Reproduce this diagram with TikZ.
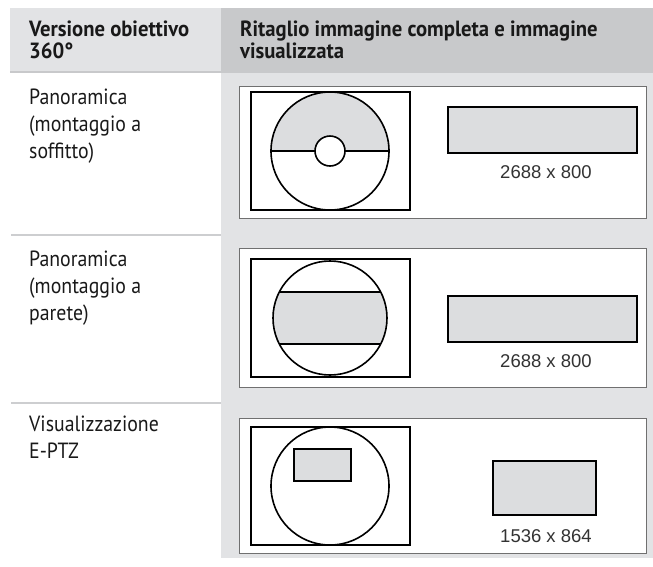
\documentclass[tikz,border=0pt]{standalone}
\usepackage{fontspec}
\setmainfont{PT Sans}[FakeStretch=0.9]
\newfontfamily\headfont{PT Sans}[FakeStretch=0.94]
\newfontfamily\numfont{Liberation Sans}
\definecolor{cellgray}{HTML}{E2E3E5}
\definecolor{headgray}{HTML}{C8C9CB}
\definecolor{fillgray}{HTML}{DCDDDF}
\definecolor{rulegray}{HTML}{CDCED0}
\definecolor{framegray}{HTML}{707070}
\begin{document}
\begin{tikzpicture}[
    x=1pt, y=-1pt,
    head/.style={anchor=north west, inner sep=0pt, align=left, font=\headfont\fontsize{22}{22}\selectfont\bfseries, text=black!90},
    label/.style={anchor=north west, inner sep=0pt, align=left, font=\fontsize{22}{27}\selectfont, text=black!90},
    dims/.style={inner sep=0pt, font=\fontsize{18.5}{20}\selectfont\numfont, text=black!80},
    panel/.style={draw=framegray, line width=0.8pt, fill=white},
    frame/.style={draw=black, line width=1.6pt},
    crop/.style={draw=black, line width=1.6pt, fill=fillgray},
    rowrule/.style={draw=rulegray, line width=1.6pt}
]
    \useasboundingbox (0,0) rectangle (653,566);

    % Table background
    \fill[cellgray] (10,8) rectangle (221,73);
    \fill[headgray] (221,8) rectangle (653,73);
    \fill[cellgray] (221,73) rectangle (653,558);
    \draw[rowrule, draw=headgray] (10,72) -- (221,72);
    \draw[rowrule] (11,235) -- (221,235);
    \draw[rowrule] (11,403) -- (221,403);

    % Header
    \node [head] (head1) at (29,21) {Versione obiettivo\\360°};
    \node [head] (head2) at (240,21) {Ritaglio immagine completa e immagine\\visualizzata};

    % Row labels
    \node [label] (row1) at (29,89) {Panoramica\\(montaggio a\\soffitto)};
    \node [label] (row2) at (29,251) {Panoramica\\(montaggio a\\parete)};
    \node [label] (row3) at (29,416) {Visualizzazione\\E-PTZ};

    % Panel 1: ceiling mount
    \draw[panel] (239,86) rectangle (646,218);
    \draw[frame] (251,92) rectangle (410,210);
    \fill[fillgray] (271,151) arc[start angle=180, end angle=0, radius=59pt] -- cycle;
    \draw[frame] (330,151) circle[radius=59pt];
    \draw[frame] (271,151) -- (389,151);
    \draw[frame, fill=white] (330,151) circle[radius=15pt];
    \draw[crop] (448,107) rectangle (637,153);
    \node [dims] (size1) at (546,172) {2688 x 800};

    % Panel 2: wall mount
    \draw[panel] (239,248) rectangle (646,387);
    \draw[frame] (251,259) rectangle (410,377);
    \begin{scope}
        \clip (330,318) circle[radius=57pt];
        \fill[fillgray] (260,292) rectangle (400,344);
        \draw[frame] (260,292) -- (400,292);
        \draw[frame] (260,344) -- (400,344);
    \end{scope}
    \draw[frame] (330,318) circle[radius=57pt];
    \draw[crop] (448,296) rectangle (637,342);
    \node [dims] (size2) at (546,361) {2688 x 800};

    % Panel 3: E-PTZ
    \draw[panel] (239,418) rectangle (646,553);
    \draw[frame] (251,427) rectangle (410,545);
    \draw[frame] (330,486) circle[radius=59pt];
    \draw[crop] (294,449) rectangle (351,481);
    \draw[crop] (493,461) rectangle (596,515);
    \node [dims] (size3) at (546,536) {1536 x 864};
\end{tikzpicture}
\end{document}
